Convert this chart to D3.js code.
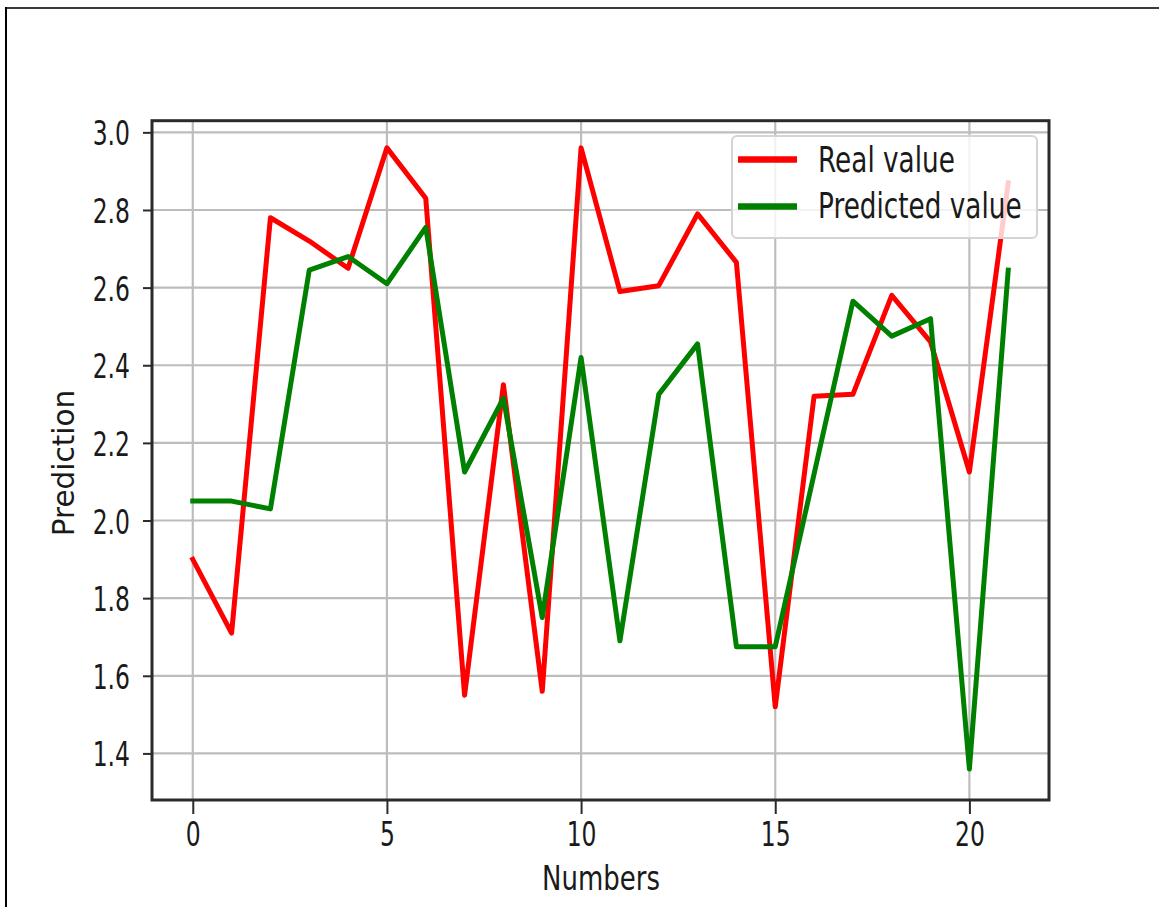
<!DOCTYPE html>
<html>
<head>
<meta charset="utf-8">
<script src="https://cdn.jsdelivr.net/npm/d3@7"></script>
<style>
  html, body { margin: 0; padding: 0; background: #fff; }
  svg { display: block; }
  text { font-family: "DejaVu Sans", sans-serif; fill: #1a1a1a; }
</style>
</head>
<body>
<svg id="chart" width="1159" height="907"></svg>
<script>
// Sample index (x axis)
const numbers = d3.range(0, 22);

// Observed values
const realValues = [1.90, 1.71, 2.78, 2.72, 2.65, 2.96, 2.83, 1.55, 2.35, 1.56, 2.96,
                    2.59, 2.605, 2.79, 2.665, 1.52, 2.32, 2.325, 2.58, 2.46, 2.125, 2.87];

// Model output
const predictedValues = [2.05, 2.05, 2.03, 2.645, 2.68, 2.61, 2.755, 2.125, 2.315, 1.75, 2.42,
                         1.69, 2.325, 2.455, 1.675, 1.675, 2.12, 2.565, 2.475, 2.52, 1.36, 2.645];

const xTicks = [0, 5, 10, 15, 20];
const yTicks = [1.4, 1.6, 1.8, 2.0, 2.2, 2.4, 2.6, 2.8, 3.0];

const seriesNames = ["Real value", "Predicted value"];
const seriesColors = ["#ff0000", "#008000"];

const svg = d3.select("#chart");

// Plot area
const plotLeft = 152, plotRight = 1049, plotTop = 120.7, plotBottom = 800;

const x = d3.scaleLinear().domain([-1.05, 22.05]).range([plotLeft, plotRight]);
const y = d3.scaleLinear().domain([1.28, 3.03]).range([plotBottom, plotTop]);

// Outer figure frame (top and left edges)
svg.append("line").attr("x1", 5).attr("x2", 1159).attr("y1", 8).attr("y2", 8)
  .attr("stroke", "#3a3a3a").attr("stroke-width", 2);
svg.append("line").attr("x1", 6).attr("x2", 6).attr("y1", 7).attr("y2", 907)
  .attr("stroke", "#000").attr("stroke-width", 2);

// Grid
const grid = svg.append("g");
grid.selectAll("line.gx").data(xTicks).join("line")
  .attr("class", "gx")
  .attr("x1", d => x(d)).attr("x2", d => x(d))
  .attr("y1", plotTop).attr("y2", plotBottom)
  .attr("stroke", "#bdbdbd").attr("stroke-width", 2.2);
grid.selectAll("line.gy").data(yTicks).join("line")
  .attr("class", "gy")
  .attr("x1", plotLeft).attr("x2", plotRight)
  .attr("y1", d => y(d)).attr("y2", d => y(d))
  .attr("stroke", "#bdbdbd").attr("stroke-width", 2.2);

// Series lines
const line = d3.line().x((d, i) => x(numbers[i])).y(d => y(d));
[realValues, predictedValues].forEach((vals, k) => {
  svg.append("path")
    .datum(vals)
    .attr("d", line)
    .attr("fill", "none")
    .attr("stroke", seriesColors[k])
    .attr("stroke-width", 5)
    .attr("stroke-linejoin", "round")
    .attr("stroke-linecap", "square");
});

// Axes
const xAxis = svg.append("g")
  .attr("transform", `translate(0,${plotBottom})`)
  .call(d3.axisBottom(x).tickValues(xTicks).tickFormat(d3.format("d")).tickSize(14).tickSizeOuter(0));
xAxis.select(".domain").remove();
xAxis.selectAll(".tick line").attr("stroke", "#2b2b2b").attr("stroke-width", 2);
xAxis.selectAll(".tick text")
  .attr("x", null).attr("y", null).attr("dy", null)
  .attr("transform", "translate(0,46) scale(1,1.46)")
  .attr("font-size", 23.5)
  .attr("fill", "#1a1a1a");

const yAxis = svg.append("g")
  .attr("transform", `translate(${plotLeft},0)`)
  .call(d3.axisLeft(y).tickValues(yTicks).tickFormat(d3.format(".1f")).tickSize(9).tickSizeOuter(0));
yAxis.select(".domain").remove();
yAxis.selectAll(".tick line").attr("stroke", "#2b2b2b").attr("stroke-width", 2);
yAxis.selectAll(".tick text")
  .attr("x", null).attr("y", null).attr("dy", null)
  .attr("transform", "translate(-22,12.5) scale(1,1.46)")
  .attr("font-size", 23.5)
  .attr("fill", "#1a1a1a");

// Spines
svg.append("rect")
  .attr("x", plotLeft).attr("y", plotTop)
  .attr("width", plotRight - plotLeft).attr("height", plotBottom - plotTop)
  .attr("fill", "none").attr("stroke", "#2b2b2b").attr("stroke-width", 3);

// Axis titles
svg.append("text")
  .attr("transform", "translate(601,890) scale(1,1.33)")
  .attr("text-anchor", "middle")
  .attr("font-size", 26)
  .text("Numbers");

svg.append("text")
  .attr("transform", "translate(74,463) rotate(-90)")
  .attr("text-anchor", "middle")
  .attr("font-size", 29.5)
  .text("Prediction");

// Legend
const legend = svg.append("g");
legend.append("rect")
  .attr("x", 732).attr("y", 136).attr("width", 305).attr("height", 102)
  .attr("rx", 5).attr("ry", 5)
  .attr("fill", "#fff").attr("fill-opacity", 0.8)
  .attr("stroke", "#d4d4d4").attr("stroke-width", 2);
const legendRows = [159.5, 206.5];
const legendBaselines = [171.7, 218.3];
seriesNames.forEach((name, i) => {
  legend.append("line")
    .attr("x1", 738).attr("x2", 797)
    .attr("y1", legendRows[i]).attr("y2", legendRows[i])
    .attr("stroke", seriesColors[i]).attr("stroke-width", 6.5);
  legend.append("text")
    .attr("transform", `translate(818,${legendBaselines[i]}) scale(1,1.33)`)
    .attr("font-size", 26.3)
    .text(name);
});
</script>
</body>
</html>
